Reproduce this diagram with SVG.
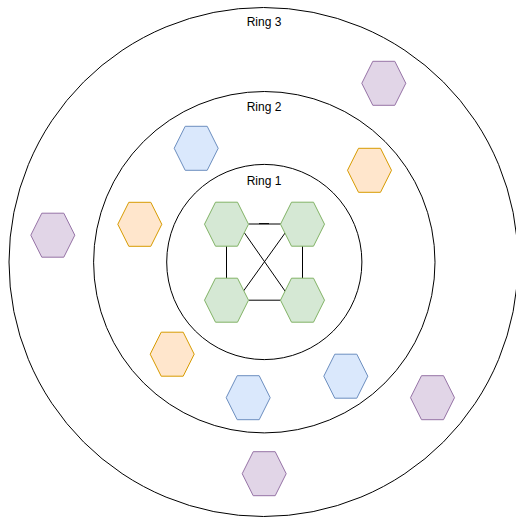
<svg xmlns="http://www.w3.org/2000/svg" xmlns:xlink="http://www.w3.org/1999/xlink" width="516" height="518" viewBox="0 0 516 518">
<style>
.ring{fill:none;stroke:#000;stroke-width:1}
.lbl{font-family:"Liberation Sans",Arial,sans-serif;font-size:12px;fill:#000;text-anchor:middle}
.green{fill:#d5e8d4;stroke:#82b366;stroke-width:1}
.blue{fill:#dae8fc;stroke:#6c8ebf;stroke-width:1}
.orange{fill:#ffe6cc;stroke:#d79b00;stroke-width:1}
.purple{fill:#e1d5e7;stroke:#9673a6;stroke-width:1}
.edge{fill:none;stroke:#000;stroke-width:1}
</style>
<defs>
<polygon id="hex" points="-22,0 -11,-22 11,-22 22,0 11,22 -11,22"/>
</defs>
<g id="ring3"><circle class="ring" cx="263.5" cy="262" r="254.5"/><text class="lbl" x="264" y="26">Ring 3</text></g>
<g id="ring2"><circle class="ring" cx="264.3" cy="262.2" r="170.7"/><text class="lbl" x="264" y="111">Ring 2</text></g>
<g id="ring1"><circle class="ring" cx="264.3" cy="262" r="97.6"/><text class="lbl" x="264" y="184.5">Ring 1</text></g>
<g id="connectors">
<path class="edge" d="M248.5 224 H281 M259 223.6 H269"/>
<path class="edge" d="M226.5 246 V278.3"/>
<path class="edge" d="M302.5 246 V278.3"/>
<path class="edge" d="M248.5 300.2 H281"/>
<path class="edge" d="M244.3 232.7 L285.7 292"/>
<path class="edge" d="M285.3 232.7 L243.5 291"/>
</g>
<g id="n_green_tl"><use xlink:href="#hex" class="green" x="226.5" y="224.2"/></g>
<g id="n_green_tr"><use xlink:href="#hex" class="green" x="302.5" y="224.2"/></g>
<g id="n_green_bl"><use xlink:href="#hex" class="green" x="226.5" y="300.2"/></g>
<g id="n_green_br"><use xlink:href="#hex" class="green" x="302.5" y="300.2"/></g>
<g id="n_blue_top"><use xlink:href="#hex" class="blue" x="196.2" y="148.3"/></g>
<g id="n_blue_bottom"><use xlink:href="#hex" class="blue" x="248.2" y="397.7"/></g>
<g id="n_blue_br"><use xlink:href="#hex" class="blue" x="345.8" y="376.2"/></g>
<g id="n_orange_right"><use xlink:href="#hex" class="orange" x="369.5" y="170.3"/></g>
<g id="n_orange_left"><use xlink:href="#hex" class="orange" x="139.8" y="224.3"/></g>
<g id="n_orange_bl"><use xlink:href="#hex" class="orange" x="172.2" y="354.2"/></g>
<g id="n_purple_tr"><use xlink:href="#hex" class="purple" x="383.8" y="83.3"/></g>
<g id="n_purple_left"><use xlink:href="#hex" class="purple" x="52.8" y="235.2"/></g>
<g id="n_purple_right"><use xlink:href="#hex" class="purple" x="432.5" y="397.7"/></g>
<g id="n_purple_bottom"><use xlink:href="#hex" class="purple" x="264.2" y="473.7"/></g>
</svg>
